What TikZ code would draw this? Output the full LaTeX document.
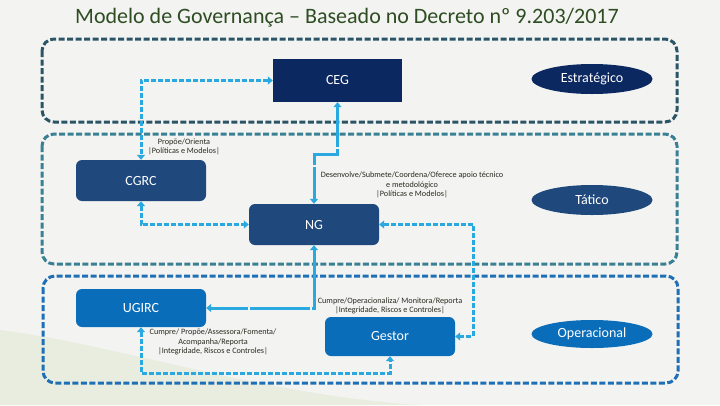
\documentclass[tikz,border=0pt]{standalone}
\usepackage{fontspec}
\setmainfont{Carlito}
\usetikzlibrary{arrows.meta,shapes.geometric}
\definecolor{bgc}{HTML}{F3F3F1}
\definecolor{swoosh}{HTML}{E8EDE0}
\definecolor{titlec}{HTML}{2E4D23}
\definecolor{frameA}{HTML}{2B5566}
\definecolor{frameB}{HTML}{3A8095}
\definecolor{frameC}{HTML}{1E6FB5}
\definecolor{navy}{HTML}{0C2860}
\definecolor{midnavy}{HTML}{1F497D}
\definecolor{bluec}{HTML}{0A6DB9}
\definecolor{connc}{HTML}{2AA8E0}
\definecolor{labc}{HTML}{2B2B22}
\begin{document}
\begin{tikzpicture}[x=1pt,y=-1pt,
  frame/.style={line width=3pt, dash pattern=on 6pt off 2.5pt, rounded corners=12pt},
  box/.style={rounded corners=6pt, text=white, font=\fontsize{14}{16}\selectfont, inner sep=0pt},
  lvl/.style={ellipse, text=white, font=\fontsize{14}{16}\selectfont, minimum width=121pt, minimum height=30pt, inner sep=0pt},
  conn/.style={draw=connc, line width=3pt, dash pattern=on 5pt off 2pt, {Triangle[length=5pt,width=8pt]}-{Triangle[length=5pt,width=8pt]}},
  lab/.style={text=labc, font=\fontsize{8.2}{9.2}\selectfont, align=center, inner sep=0pt}
]
\useasboundingbox (0,0) rectangle (720,405);
\fill[bgc] (0,0) rectangle (720,405);
\fill[swoosh] (0,330) .. controls (120,345) and (260,395) .. (420,405) -- (0,405) -- cycle;

\node[text=titlec, font=\fontsize{22}{24}\selectfont] (title) at (347,18) {Modelo de Governança – Baseado no Decreto nº 9.203/2017};

% frames
\draw[frame, draw=frameA] (42,39) rectangle (677,122);
\draw[frame, draw=frameB] (42,134) rectangle (677,264);
\draw[frame, draw=frameC] (43,276) rectangle (678,383);

% level ellipses
\node[lvl, fill=navy] (estr) at (592,79) {Estratégico};
\node[lvl, fill=midnavy] (tat) at (592,200) {Tático};
\node[lvl, fill=bluec, minimum height=28pt] (oper) at (592,334) {Operacional};

% boxes
\node[box, fill=navy, rounded corners=0pt, minimum width=129pt, minimum height=43pt] (ceg) at (337.5,80.5) {CEG};
\node[box, fill=midnavy, minimum width=130pt, minimum height=41pt] (cgrc) at (141,180.5) {CGRC};
\node[box, fill=midnavy, minimum width=130pt, minimum height=41pt] (ng) at (314,224.5) {NG};
\node[box, fill=bluec, minimum width=130pt, minimum height=38pt] (ugirc) at (141,308) {UGIRC};
\node[box, fill=bluec, minimum width=130pt, minimum height=39pt] (gestor) at (390,336.5) {Gestor};

% connectors
\coordinate (k1) at (337.5,154);
\coordinate (k2) at (314,154);
\coordinate (k3) at (473,224.5);
\coordinate (k4) at (141,373);

\draw[conn] (ceg.west) -| (cgrc.north);
\draw[conn, dash pattern=on 40pt off 2pt] (ceg.south) -- (k1) -- (k2) -- (ng.north);
\draw[conn] (cgrc.south) |- (ng.west);
\draw[conn] (ng.east) -- (k3) |- (gestor.east);
\draw[conn, dash pattern=on 60pt off 2pt] (ng.south) |- (ugirc.east);
\draw[conn] (ugirc.south) -- (k4) -| (gestor.south);

% labels
\node[lab] (l1) at (184,147) {Propõe/Orienta\\|Políticas e Modelos|};
\node[lab] (l2) at (412,185) {Desenvolve/Submete/Coordena/Oferece apoio técnico\\e metodológico\\|Políticas e Modelos|};
\node[lab] (l3) at (390,306) {Cumpre/Operacionaliza/ Monitora/Reporta\\|Integridade, Riscos e Controles|};
\node[lab] (l4) at (213,342) {Cumpre/ Propõe/Assessora/Fomenta/\\Acompanha/Reporta\\|Integridade, Riscos e Controles|};
\end{tikzpicture}
\end{document}
